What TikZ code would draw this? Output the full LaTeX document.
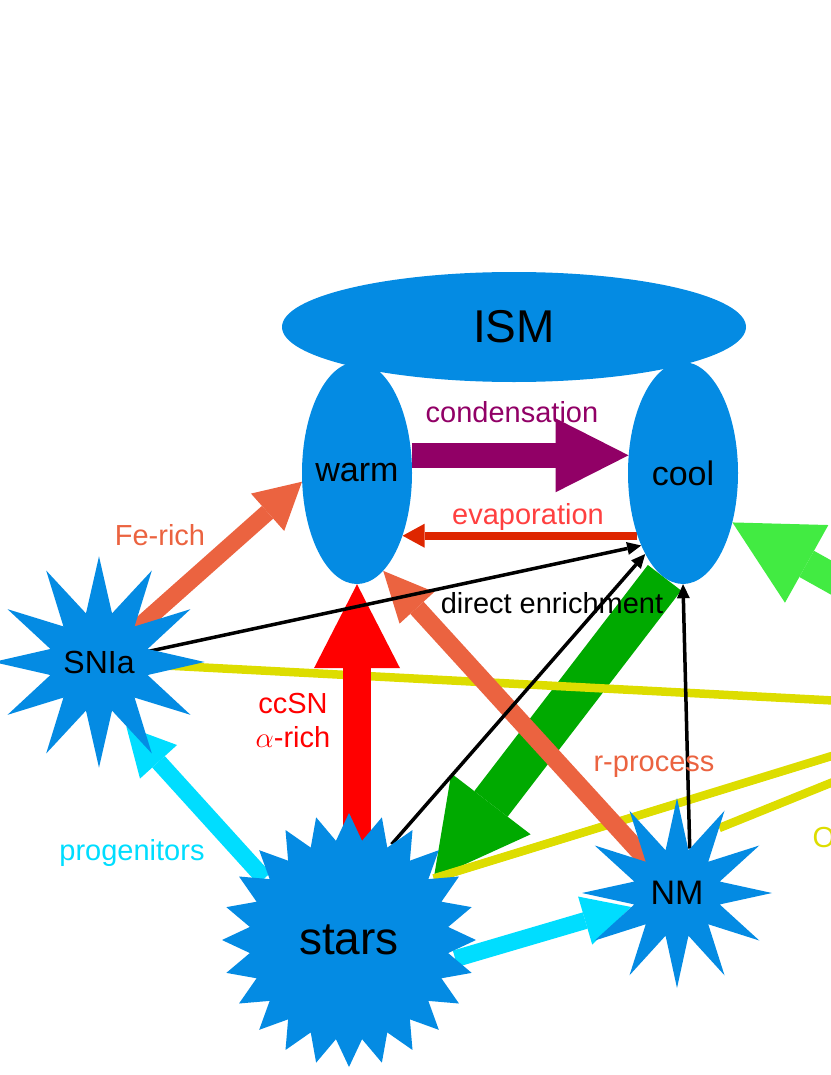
\documentclass[tikz,border=0pt]{standalone}
\usepackage{fix-cm}
\usepackage{fontspec}
\setmainfont{Liberation Sans}
\usepackage{tikz}
\usetikzlibrary{arrows.meta, shapes.geometric, backgrounds}

\definecolor{ismblue}{RGB}{4,139,227}
\definecolor{condpurple}{RGB}{145,0,102}
\definecolor{evapred}{RGB}{222,38,0}
\definecolor{evaptext}{RGB}{255,64,64}
\definecolor{salmon}{RGB}{235,99,64}
\definecolor{ccred}{RGB}{255,0,0}
\definecolor{dkgreen}{RGB}{0,170,0}
\definecolor{ltgreen}{RGB}{66,235,66}
\definecolor{cyanarr}{RGB}{0,221,255}
\definecolor{yellowline}{RGB}{221,221,0}

\begin{document}
\begin{tikzpicture}[
  x=1pt, y=-1pt,
  every node/.style={font=\fontsize{29}{34}\selectfont},
  phase/.style={ellipse, fill=ismblue, inner sep=-4pt},
  burst/.style={star, fill=ismblue, inner sep=0pt},
  blockhead/.style 2 args={-{Triangle[length=#1, width=#2, line width=0pt]}},
  condarr/.style={draw=condpurple, line width=25pt, blockhead={73pt}{74pt}},
  evaparr/.style={draw=evapred, line width=8pt, blockhead={22pt}{24pt}},
  fearr/.style={draw=salmon, line width=17pt, blockhead={46pt}{50pt}},
  rarr/.style={draw=salmon, line width=18pt, blockhead={50pt}{47pt}},
  ccarr/.style={draw=ccred, line width=28pt, blockhead={84pt}{86pt}},
  formarr/.style={draw=dkgreen, line width=42pt, blockhead={94pt}{100pt}},
  infarr/.style={draw=ltgreen, line width=30pt, blockhead={85pt}{89pt}},
  cyarr/.style={draw=cyanarr, line width=17pt, blockhead={48pt}{50pt}},
  thinarr/.style={draw=black, line width=3.5pt, blockhead={14pt}{13pt}},
  yline/.style={draw=yellowline, line width=8.5pt},
]
  \useasboundingbox (0,0) rectangle (830,1075);

  % ISM and its two phases
  \node[phase, minimum width=464pt, minimum height=110pt,
        font=\fontsize{46}{52}\selectfont] (ism) at (514,327) {ISM};
  \node[phase, minimum width=110pt, minimum height=222pt,
        font=\fontsize{34}{40}\selectfont] (warm) at (357,473) {warm};
  \node[phase, minimum width=110pt, minimum height=222pt,
        font=\fontsize{34}{40}\selectfont] (cool) at (683,473) {cool};

  % sources
  \node[burst, star points=12, star point ratio=2.1, minimum size=186pt,
        font=\fontsize{32}{38}\selectfont] (snia) at (99,662) {SNIa};
  \node[burst, star points=12, star point ratio=2.15, minimum size=190pt,
        font=\fontsize{34}{40}\selectfont] (nm) at (677,893) {NM};
  \node[burst, star points=24, star point ratio=1.27, minimum size=254pt,
        font=\fontsize{46}{52}\selectfont] (stars) at (349,940) {stars};

  % free ends off the right edge
  \coordinate (outA) at (900,704);
  \coordinate (outB) at (900,735);
  \coordinate (outC) at (900,755);
  \coordinate (inG) at (900,616);

  % flows, behind the blobs
  \begin{scope}[on background layer]
    \draw[formarr] (cool.-100) -- (stars.36);
    \foreach \a/\b in {snia.center/outA, stars.36/outB, nm.57/outC}
      \draw[yline] (\a) -- (\b);
    \draw[ccarr] (stars.center -| warm.south) -- (warm.south);
    \draw[rarr] (nm.center) -- (warm.-75);
    \draw[fearr] (snia.center) -- (warm.189);
    \draw[cyarr] (stars.144) -- (snia.-67);
    \draw[cyarr] (stars.-10) -- (nm.197);
    \draw[thinarr] (snia.center) -- (cool.240);
    \draw[thinarr] (stars.66) -- (cool.245);
    \draw[thinarr] (nm.74) -- (cool.south);
    \draw[condarr] (warm.18) -- (cool.162);
    \draw[evaparr] (cool.234) -- (warm.-54);
    \draw[infarr] (inG) -- (cool.-45);
  \end{scope}

  % labels
  \node[anchor=base, text=condpurple] (lcond) at (512,422) {condensation};
  \node[anchor=base, text=evaptext] (levap) at (528,524) {evaporation};
  \node[anchor=base, text=salmon] (lfe) at (160,545) {Fe-rich};
  \node[anchor=base] (ldirect) at (552,613) {direct enrichment};
  \node[anchor=base, text=ccred] (lccsn) at (293,713) {ccSN};
  \node[anchor=base, text=ccred] (lalpha) at (293,747) {$\alpha$-rich};
  \node[anchor=base, text=salmon] (lrproc) at (654,771) {r-process};
  \node[anchor=base, text=cyanarr] (lprog) at (132,860) {progenitors};
  \node[anchor=base west, text=yellowline] (lout) at (809,847) {O};
\end{tikzpicture}
\end{document}
